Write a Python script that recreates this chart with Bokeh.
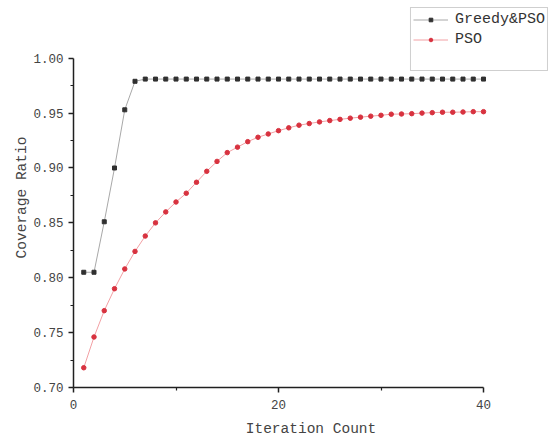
from bokeh.plotting import figure
from bokeh.models import Range1d, FixedTicker, Legend, LegendItem, PrintfTickFormatter, ColumnDataSource
from bokeh.embed import file_html
from bokeh.resources import INLINE

iterations = list(range(1, 41))
greedy_pso = [0.805, 0.805, 0.851, 0.900, 0.953, 0.979] + [0.981] * 34
pso = [0.718, 0.746, 0.770, 0.790, 0.808, 0.824, 0.838, 0.850, 0.860, 0.869,
       0.877, 0.887, 0.897, 0.906, 0.914, 0.919, 0.924, 0.928, 0.931, 0.934,
       0.9366, 0.939, 0.9405, 0.942, 0.9432, 0.9443, 0.9454, 0.9463, 0.9472, 0.948,
       0.949, 0.9492, 0.9495, 0.950, 0.9504, 0.9508, 0.9508, 0.951, 0.9513, 0.9513]
x_ticks = [0, 20, 40]
x_minor = [10, 30]
y_ticks = [0.70, 0.75, 0.80, 0.85, 0.90, 0.95, 1.00]
y_minor = [0.725, 0.775, 0.825, 0.875, 0.925, 0.975]

FONT = "Liberation Mono"

# frame extends beyond the axes' extent so that the legend (which sits above/right
# of the axes in the reference) lies inside it; axis bounds limit the drawn axes.
x_end = 40 * 475 / 410
y_end = 0.70 + 0.30 * 382 / 331

p = figure(width=557, height=439, output_backend="svg", toolbar_location=None,
           x_range=Range1d(0, x_end), y_range=Range1d(0.70, y_end),
           min_border_left=73, min_border_right=9, min_border_top=7, min_border_bottom=50)
p.outline_line_color = None
p.xgrid.visible = False
p.ygrid.visible = False
p.background_fill_color = "white"
p.border_fill_color = "white"

src = ColumnDataSource(dict(x=iterations, g=greedy_pso, s=pso))

gl = p.line("x", "g", source=src, line_color="#a8a8a8", line_width=1)
gm = p.scatter("x", "g", source=src, marker="square", size=4, fill_color="#303030", line_color="#303030")
sl = p.line("x", "s", source=src, line_color="#f2a0a4", line_width=1)
sm = p.scatter("x", "s", source=src, marker="circle", size=4.5, fill_color="#d8323f", line_color="#d8323f")
dummy = p.scatter(x=[0], y=[0.5], size=1, fill_alpha=0, line_alpha=0)

for ax in (p.xaxis[0], p.yaxis[0]):
    ax.axis_line_color = "#202020"
    ax.axis_line_width = 1.5
    ax.major_tick_line_color = "#202020"
    ax.major_tick_line_width = 1.5
    ax.minor_tick_line_color = "#202020"
    ax.minor_tick_line_width = 1.2
    ax.major_tick_in = 0
    ax.major_tick_out = 5
    ax.minor_tick_in = 0
    ax.minor_tick_out = 3
    ax.major_label_text_font = FONT
    ax.major_label_text_font_size = "12.5px"
    ax.major_label_text_color = "#444444"
    ax.axis_label_text_font = FONT
    ax.axis_label_text_font_size = "14.5px"
    ax.axis_label_text_font_style = "normal"
    ax.axis_label_text_color = "#444444"

p.xaxis.bounds = (0, 40)
p.yaxis.bounds = (0.70, 1.00)
p.xaxis.ticker = FixedTicker(ticks=x_ticks, minor_ticks=x_minor)
p.yaxis.ticker = FixedTicker(ticks=y_ticks, minor_ticks=y_minor)
p.yaxis.formatter = PrintfTickFormatter(format="%.2f")
p.xaxis.axis_label = "Iteration Count"
p.yaxis.axis_label = "Coverage Ratio"
p.xaxis.major_label_standoff = 7
p.yaxis.major_label_standoff = 5
p.xaxis.axis_label_standoff = 9
p.yaxis.axis_label_standoff = 0

legend = Legend(items=[
    LegendItem(label="Greedy&PSO", renderers=[gl, gm]),
    LegendItem(label="PSO", renderers=[sl, sm]),
    LegendItem(label="  ", renderers=[dummy]),
], location="top_right")
legend.label_text_font = FONT
legend.label_text_font_size = "15px"
legend.label_text_color = "#333333"
legend.glyph_width = 35
legend.glyph_height = 9
legend.label_height = 18
legend.spacing = 2
legend.padding = 2
legend.margin = 0
legend.label_standoff = 7
legend.border_line_color = "#a0a0a0"
legend.border_line_width = 1.5
legend.background_fill_color = "white"
legend.background_fill_alpha = 1
p.add_layout(legend, "center")

open("out.html", "w").write(file_html(p, INLINE))
